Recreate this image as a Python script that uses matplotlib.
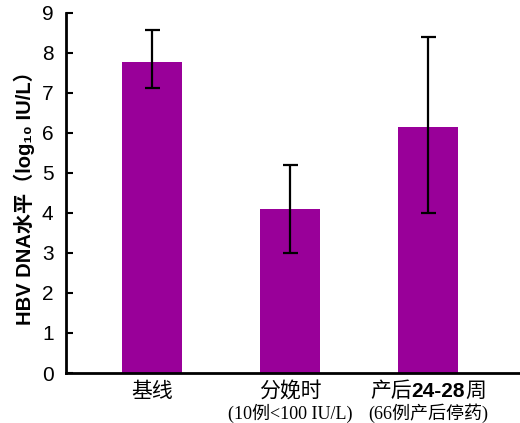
import matplotlib
matplotlib.use('Agg')
import matplotlib.pyplot as plt
from matplotlib.offsetbox import TextArea, HPacker, AnnotationBbox

# 数据
groups = ['基线', '分娩时', '产后24-28周']
means = [7.78, 4.1, 6.14]
upper = [8.58, 5.2, 8.4]
lower = [7.12, 3.0, 4.0]
# 标签分段: (文字, 是否加粗)
label_parts = [[('基线', False)],
               [('分娩时', False)],
               [('产后', False), ('24-28', True), ('周', False)]]
notes = ['', '(10例<100 IU/L)', '(66例产后停药)']
yticks = [0, 1, 2, 3, 4, 5, 6, 7, 8, 9]

cjk = ['Liberation Sans', 'Noto Sans CJK SC', 'DejaVu Sans']
serif = ['Liberation Serif', 'Noto Sans CJK SC', 'DejaVu Sans']
purple = '#990099'

fig = plt.figure(figsize=(5.2, 4.23), dpi=100)
ax = fig.add_axes([0.127, 0.1182, 0.873, 0.8511])

x = list(range(len(groups)))
err_lo = [m - l for m, l in zip(means, lower)]
err_hi = [u - m for m, u in zip(means, upper)]
ax.bar(x, means, width=0.435, color=purple, zorder=1)
ax.errorbar(x, means, yerr=[err_lo, err_hi], fmt='none', ecolor='black',
            elinewidth=1.6, capsize=5.4, capthick=1.6, zorder=2)

ax.set_xlim(-0.623, 2.667)
ax.set_ylim(0, 9)
ax.set_yticks(yticks)
ax.set_yticklabels([str(t) for t in yticks], fontsize=15, family=cjk)
ax.set_xticks([])

ax.spines['top'].set_visible(False)
ax.spines['right'].set_visible(False)
ax.spines['left'].set_linewidth(2)
ax.spines['bottom'].set_linewidth(2)
ax.tick_params(axis='y', direction='in', length=5, width=1.5, pad=9)

ax.set_ylabel('HBV DNA水平（log₁₀ IU/L）', fontsize=14.5, fontweight='bold',
              family=cjk, labelpad=5)

# 横轴分类标签
for i, parts in enumerate(label_parts):
    areas = []
    for txt, bold in parts:
        if bold:
            props = dict(fontsize=15, family=cjk, fontweight='bold')
        else:
            props = dict(fontsize=15, family=['Noto Sans CJK SC'])
        areas.append(TextArea(txt, textprops=props))
    box = HPacker(children=areas, align='baseline', pad=0, sep=0)
    ab = AnnotationBbox(box, (x[i], 0), xycoords=('data', 'axes fraction'),
                        xybox=(0, -13), boxcoords='offset points',
                        frameon=False, box_alignment=(0.5, 0.5),
                        annotation_clip=False)
    ax.add_artist(ab)
    if notes[i]:
        ax.annotate(notes[i], xy=(x[i], 0), xycoords=('data', 'axes fraction'),
                    xytext=(0, -29), textcoords='offset points',
                    ha='center', va='center', fontsize=13, family=serif,
                    annotation_clip=False)

fig.savefig('out.png', dpi=100)
